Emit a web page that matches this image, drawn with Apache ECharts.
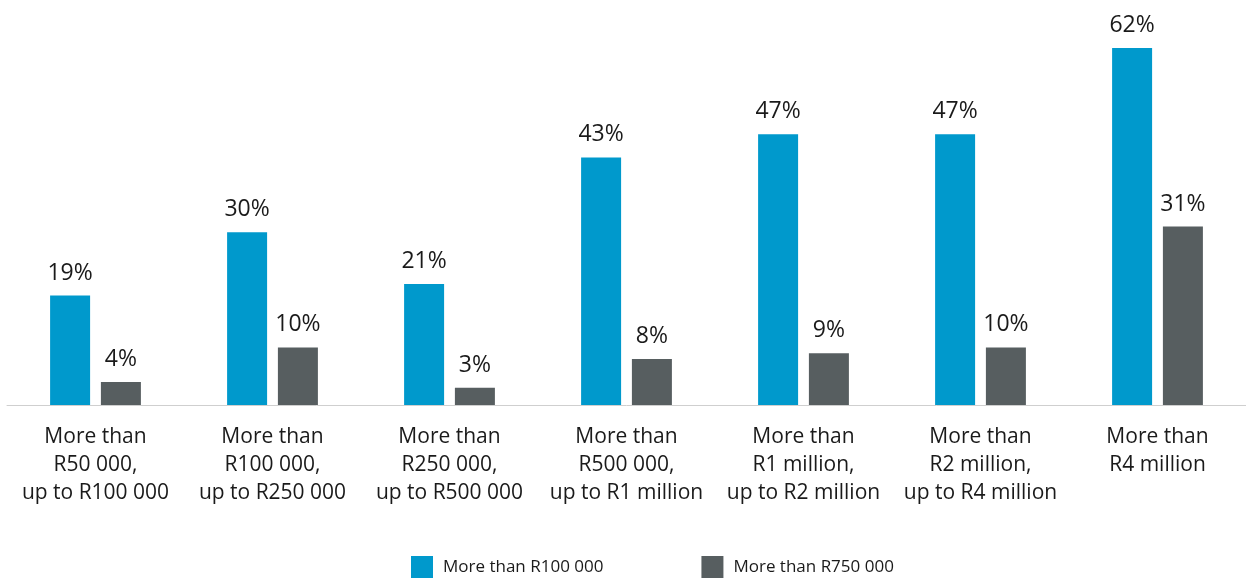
<!DOCTYPE html>
<html>
<head>
<meta charset="utf-8">
<script src="https://cdn.jsdelivr.net/npm/echarts@6/dist/echarts.min.js"></script>
<style>
  html, body { margin: 0; padding: 0; background: #fff; }
  #chart { width: 1246px; height: 578px; }
</style>
</head>
<body>
<div id="chart"></div>
<script>
// Income bands and share of respondents in each
const categories = [
  'More than\nR50 000,\nup to R100 000',
  'More than\nR100 000,\nup to R250 000',
  'More than\nR250 000,\nup to R500 000',
  'More than\nR500 000,\nup to R1 million',
  'More than\nR1 million,\nup to R2 million',
  'More than\nR2 million,\nup to R4 million',
  'More than\nR4 million'
];
const seriesNames = ['More than R100 000', 'More than R750 000'];
const over100k = [19, 30, 21, 43, 47, 47, 62];
const over750k = [4, 10, 3, 8, 9, 10, 31];

const FONT = '"Open Sans", "Noto Sans", sans-serif';

const chart = echarts.init(document.getElementById('chart'));

function barSeries(name, data, color) {
  return {
    name: name,
    type: 'bar',
    data: data,
    barWidth: 40,
    barGap: '27%',
    itemStyle: { color: color },
    label: {
      show: true,
      position: 'top',
      distance: 11,
      formatter: '{c}%',
      fontFamily: FONT,
      fontSize: 23,
      color: '#1a1a1a'
    }
  };
}

chart.setOption({
  animation: false,
  textStyle: { fontFamily: FONT },
  grid: { left: 7, right: -6, top: 48, bottom: 173, containLabel: false },
  legend: {
    left: 406,
    top: 551,
    itemWidth: 22,
    itemHeight: 22,
    itemGap: 98,
    icon: 'rect',
    textStyle: { fontFamily: FONT, fontSize: 17, color: '#1a1a1a', padding: [0, 0, 0, 5] },
    data: seriesNames
  },
  xAxis: {
    type: 'category',
    data: categories,
    axisLine: { lineStyle: { color: '#cfcfcf', width: 1 } },
    axisTick: { show: false },
    axisLabel: {
      interval: 0,
      margin: 18,
      fontFamily: FONT,
      fontSize: 21,
      lineHeight: 28,
      color: '#1a1a1a',
      align: 'center'
    }
  },
  yAxis: {
    type: 'value',
    min: 0,
    max: 62,
    show: false,
    splitLine: { show: false }
  },
  series: [
    barSeries(seriesNames[0], over100k, '#0099CC'),
    barSeries(seriesNames[1], over750k, '#575E60')
  ]
});
</script>
</body>
</html>
